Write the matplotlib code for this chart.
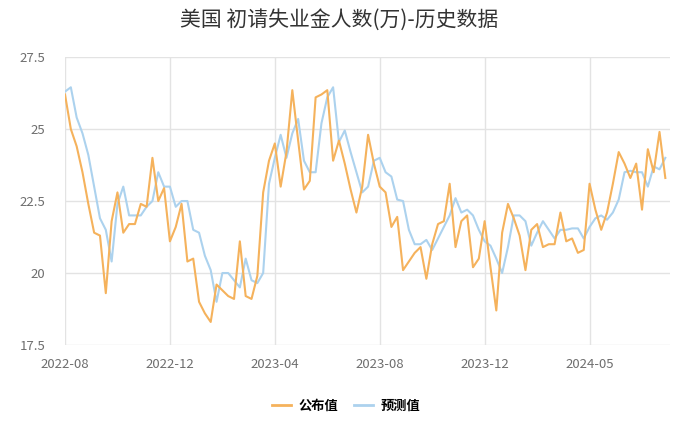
import matplotlib.pyplot as plt
from matplotlib.lines import Line2D

plt.rcParams['font.family'] = ['Noto Sans CJK SC', 'DejaVu Sans']

# 公布值 (weekly, 万)
actual = [26.2, 25.0, 24.4, 23.5, 22.4, 21.4, 21.3, 19.3, 21.8, 22.8,
          21.4, 21.7, 21.7, 22.4, 22.3, 24.0, 22.5, 22.95, 21.1, 21.6,
          22.4, 20.4, 20.5, 19.0, 18.6, 18.3, 19.6, 19.4, 19.2, 19.1,
          21.1, 19.2, 19.1, 19.9, 22.8, 23.9, 24.5, 23.0, 24.2, 26.35,
          24.6, 22.9, 23.2, 26.1, 26.2, 26.35, 23.9, 24.6, 23.8, 22.9,
          22.1, 23.0, 24.8, 23.8, 23.0, 22.8, 21.6, 21.95, 20.1, 20.4,
          20.7, 20.9, 19.8, 21.0, 21.7, 21.8, 23.1, 20.9, 21.8, 22.0,
          20.2, 20.5, 21.8, 20.2, 18.7, 21.4, 22.4, 21.9, 21.3, 20.1,
          21.5, 21.7, 20.9, 21.0, 21.0, 22.1, 21.1, 21.2, 20.7, 20.8,
          23.1, 22.2, 21.5, 22.1, 23.1, 24.2, 23.8, 23.3, 23.8, 22.2,
          24.3, 23.5, 24.9, 23.3]

# 预测值
forecast = [26.3, 26.45, 25.4, 24.85, 24.1, 23.0, 21.9, 21.5, 20.4, 22.4,
            23.0, 22.0, 22.0, 22.0, 22.3, 22.5, 23.5, 23.0, 23.0, 22.3,
            22.5, 22.5, 21.5, 21.4, 20.6, 20.1, 19.0, 20.0, 20.0, 19.75,
            19.5, 20.5, 19.75, 19.65, 20.0, 23.1, 24.0, 24.8, 24.0, 24.85,
            25.35, 23.9, 23.5, 23.5, 25.2, 26.1, 26.45, 24.55, 24.95, 24.2,
            23.5, 22.8, 23.0, 23.9, 24.0, 23.5, 23.35, 22.55, 22.5, 21.5,
            21.0, 21.0, 21.15, 20.8, 21.2, 21.6, 22.0, 22.6, 22.1, 22.2,
            22.0, 21.5, 21.1, 20.95, 20.5, 20.0, 20.9, 22.0, 22.0, 21.8,
            20.95, 21.4, 21.8, 21.5, 21.2, 21.5, 21.5, 21.55, 21.55, 21.2,
            21.6, 21.9, 22.0, 21.85, 22.1, 22.55, 23.5, 23.55, 23.5, 23.5,
            23.0, 23.7, 23.6, 24.0]

xtick_pos = [0, 18, 36, 54, 72, 90]
xtick_labels = ['2022-08', '2022-12', '2023-04', '2023-08', '2023-12', '2024-05']
ytick_pos = [17.5, 20, 22.5, 25, 27.5]
ytick_labels = ['17.5', '20', '22.5', '25', '27.5']

c_act = '#f5b25c'
c_fc = '#acd2ee'

fig = plt.figure(figsize=(6.93, 4.21), dpi=100)
ax = fig.add_axes([0.0938, 0.1805, 0.873, 0.684])

x = list(range(len(actual)))
ax.plot(x, forecast, color=c_fc, lw=1.5)
ax.plot(x, actual, color=c_act, lw=1.5)

ax.set_xlim(0, 103.8)
ax.set_ylim(17.5, 27.5)
ax.set_xticks(xtick_pos)
ax.set_xticklabels(xtick_labels)
ax.set_yticks(ytick_pos)
ax.set_yticklabels(ytick_labels)
ax.grid(True, color='#e3e3e3', lw=1)
ax.set_axisbelow(True)
for s in ax.spines.values():
    s.set_visible(False)
ax.tick_params(length=0, labelsize=9.5, colors='#6e6e6e')
ax.tick_params(axis='y', pad=14)
ax.tick_params(axis='x', pad=9)

fig.text(0.49, 0.952, '美国 初请失业金人数(万)-历史数据', ha='center', va='center',
         fontsize=15, color='#333333')

handles = [Line2D([], [], color=c_act, lw=2), Line2D([], [], color=c_fc, lw=2)]
fig.legend(handles, ['公布值', '预测值'], loc='center', bbox_to_anchor=(0.5, 0.037),
           ncol=2, frameon=False, handlelength=1.4, columnspacing=1.2,
           handletextpad=0.6, prop={'size': 9.5, 'weight': 'bold'})

fig.savefig('out.png', dpi=100)
